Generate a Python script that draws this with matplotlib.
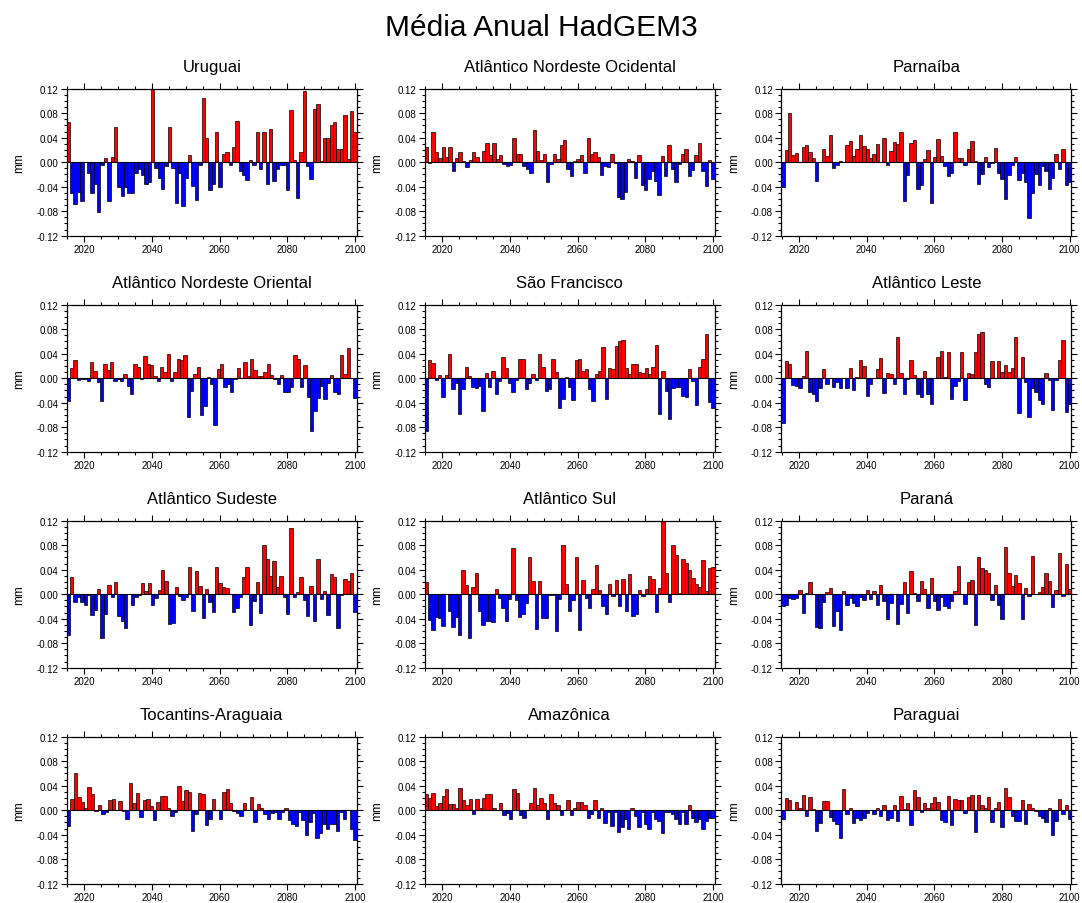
import numpy as np
import matplotlib
matplotlib.use("Agg")
import matplotlib.pyplot as plt
from matplotlib.ticker import MultipleLocator, FormatStrFormatter

plt.rcParams['font.family'] = ['Liberation Sans', 'DejaVu Sans']

SUPTITLE = "Média Anual HadGEM3"
YEAR_MIN, YEAR_MAX = 2014.8, 2100.5
XTICKS = [2020, 2040, 2060, 2080, 2100]
YTICKS = [-0.12, -0.08, -0.04, 0.00, 0.04, 0.08, 0.12]
YLABEL = "mm"

uruguai = [0.065,-0.051,-0.068,-0.049,-0.063,0.001,-0.018,-0.051,-0.036,-0.081,
           -0.004,0.007,-0.063,0.009,0.057,-0.040,-0.055,-0.040,-0.050,-0.050,
           -0.017,-0.011,-0.021,-0.036,-0.033,0.120,-0.010,-0.026,-0.044,-0.006,
           0.057,-0.010,-0.066,-0.018,-0.072,-0.025,0.012,-0.039,-0.062,-0.004,
           0.105,0.039,-0.045,-0.036,0.050,-0.041,0.014,0.016,-0.004,0.025,
           0.068,-0.014,-0.021,-0.029,0.003,-0.005,0.049,-0.011,0.050,-0.036,
           0.055,-0.031,-0.011,-0.004,-0.004,-0.045,0.085,0.003,-0.059,0.016,
           0.116,-0.006,-0.028,0.087,0.095,0.002,0.039,0.040,0.060,0.065,
           0.021,0.021,0.077,0.005,0.083,0.049]

atl_ne_ocidental = [0.025,-0.002,0.050,0.016,0.007,0.025,0.008,0.025,-0.014,0.007,
                    0.016,0.002,-0.008,0.004,0.016,0.008,0.000,0.019,0.032,0.011,
                    0.031,0.006,0.011,-0.003,-0.007,-0.005,0.040,0.014,0.013,-0.007,
                    -0.011,-0.018,0.052,0.019,0.004,0.013,-0.032,-0.003,0.013,0.005,
                    0.028,0.036,-0.011,-0.022,0.002,0.005,0.011,-0.017,0.040,
                    0.014,0.016,0.008,-0.021,-0.006,-0.008,0.014,-0.002,-0.056,-0.060,
                    -0.049,0.005,0.002,-0.026,0.011,-0.037,-0.046,-0.028,-0.014,-0.030,
                    -0.054,0.010,-0.023,0.028,-0.011,-0.033,-0.003,0.014,0.021,-0.022,
                    -0.013,0.011,0.031,-0.015,-0.039,0.003,-0.027]

parnaiba = [-0.041,0.020,0.080,0.011,0.015,0.000,0.025,0.028,0.017,0.007,
            -0.030,0.000,0.021,0.010,0.045,-0.010,-0.004,0.002,0.001,0.028,
            0.034,0.010,0.021,0.045,0.026,0.021,0.007,0.013,0.030,
            0.001,0.040,-0.004,0.018,0.033,0.029,0.049,-0.064,-0.021,0.032,
            0.036,-0.044,-0.037,0.005,0.020,-0.066,0.008,0.038,0.010,-0.007,
            -0.023,-0.017,0.050,0.007,0.007,-0.004,0.022,0.034,0.002,-0.035,
            -0.019,0.008,-0.008,-0.002,0.024,-0.017,-0.028,-0.060,-0.021,-0.004,
            0.008,-0.029,-0.018,-0.032,-0.091,-0.051,-0.020,-0.037,-0.006,-0.014,
            -0.043,-0.025,0.013,-0.011,0.021,-0.038,-0.032]

atl_ne_oriental = [-0.037,0.016,0.030,-0.003,-0.001,-0.002,-0.005,0.026,0.011,-0.007,
                   -0.038,0.023,0.014,0.027,-0.005,-0.001,-0.004,0.007,-0.012,-0.025,
                   0.023,0.019,-0.001,0.037,0.023,0.022,0.004,-0.004,0.019,0.010,
                   0.040,-0.004,0.010,0.032,0.029,0.038,-0.064,-0.021,0.007,0.019,
                   -0.060,-0.045,0.002,-0.010,-0.077,0.015,0.023,-0.015,-0.010,-0.022,
                   -0.002,0.016,0.000,0.027,0.004,0.031,0.013,0.003,0.003,0.010,
                   0.023,0.005,-0.001,-0.010,0.006,-0.023,-0.023,-0.015,0.038,0.032,
                   -0.015,0.021,-0.030,-0.087,-0.054,-0.032,-0.013,-0.034,-0.008,0.005,
                   -0.023,-0.026,0.038,0.007,0.050,0.000,-0.032]

sao_francisco = [-0.087,0.030,0.025,-0.003,0.005,-0.031,0.005,0.039,-0.018,-0.008,
                 -0.059,-0.017,0.018,0.004,-0.014,-0.016,-0.012,-0.053,0.009,-0.014,
                 0.012,-0.025,-0.004,0.035,0.017,-0.008,-0.023,-0.003,0.032,0.031,
                 -0.018,-0.008,0.007,-0.003,0.040,0.019,-0.021,-0.017,0.031,0.010,
                 -0.048,-0.034,0.002,-0.015,-0.036,0.030,0.032,0.012,0.015,-0.018,
                 -0.037,0.007,0.011,0.051,-0.034,0.016,0.015,0.052,0.060,0.062,
                 0.017,0.007,0.023,0.024,0.010,0.008,0.016,0.007,0.018,0.054,
                 -0.059,0.012,-0.021,-0.067,-0.016,-0.015,-0.014,-0.029,-0.031,0.015,
                 -0.004,-0.044,0.019,0.031,0.072,-0.039,-0.048]

atl_leste = [-0.073,0.028,0.023,-0.011,-0.013,-0.016,0.004,0.045,-0.023,-0.026,
             -0.038,-0.016,0.015,-0.010,0.000,-0.015,-0.007,-0.016,0.000,-0.016,
             0.016,-0.020,0.002,0.030,0.020,-0.029,-0.010,0.000,0.015,0.033,
             -0.024,0.009,0.007,-0.010,0.068,0.009,-0.026,-0.002,0.029,0.005,
             -0.026,-0.031,0.011,-0.026,-0.042,0.000,0.035,0.044,0.002,0.042,
             -0.034,-0.013,-0.004,0.042,-0.036,0.009,0.007,0.042,0.072,
             0.076,-0.010,-0.014,0.028,0.000,0.028,0.010,0.021,0.010,0.016,
             0.068,-0.057,0.034,-0.007,-0.064,-0.016,-0.022,-0.036,-0.042,0.009,
             -0.003,-0.052,-0.003,0.029,0.062,-0.055,-0.042]

atl_sudeste = [-0.067,0.028,-0.012,-0.005,-0.012,-0.018,-0.001,-0.034,-0.026,0.009,
               -0.072,-0.032,0.015,-0.005,0.020,-0.036,-0.044,-0.055,0.000,-0.017,
               -0.004,-0.001,0.018,0.005,0.018,-0.017,-0.007,0.007,0.040,0.022,
               -0.049,-0.047,0.011,-0.003,-0.009,-0.005,0.045,-0.027,0.038,0.014,
               -0.039,0.008,-0.012,-0.029,0.045,0.019,0.011,0.010,0.000,-0.029,
               -0.023,-0.005,0.028,0.045,-0.050,-0.011,0.020,-0.031,0.080,0.058,
               0.030,0.054,0.011,0.030,-0.004,-0.032,0.108,-0.004,0.003,0.028,
               -0.009,-0.036,0.013,-0.044,0.058,-0.008,0.006,-0.034,0.033,0.028,
               -0.055,-0.001,0.025,0.021,0.034,-0.029]

atl_sul = [0.020,-0.042,-0.058,-0.038,-0.039,-0.052,0.000,-0.027,-0.053,-0.038,
           -0.066,0.040,0.015,-0.071,0.011,0.035,-0.027,-0.050,-0.044,-0.044,
           -0.045,0.009,-0.007,-0.022,-0.044,-0.008,0.075,-0.009,-0.038,-0.033,
           -0.015,0.061,0.021,-0.057,0.022,-0.039,-0.039,-0.002,-0.002,-0.060,
           -0.008,0.081,0.016,-0.027,-0.009,0.060,-0.058,0.023,-0.006,-0.022,
           0.008,0.048,0.007,-0.020,-0.032,0.016,-0.003,0.023,-0.020,0.025,
           -0.028,0.033,-0.036,-0.033,0.007,-0.003,0.009,0.030,0.025,-0.029,
           0.010,0.119,0.034,-0.012,0.081,0.064,0.002,0.058,0.051,0.039,
           0.026,0.017,0.011,0.056,0.006,0.042,0.045]

parana = [-0.019,-0.017,-0.007,-0.008,-0.007,0.007,-0.031,0.002,0.020,
          0.000,-0.054,-0.055,-0.013,0.004,0.010,-0.052,-0.027,-0.058,0.006,
          -0.017,-0.007,-0.014,-0.019,-0.004,-0.009,0.007,-0.008,0.006,-0.017,
          0.015,-0.011,-0.040,-0.014,0.000,-0.048,-0.016,0.020,-0.031,0.038,
          0.002,-0.011,0.021,0.009,-0.023,0.027,-0.011,-0.025,-0.004,-0.020,
          -0.023,-0.011,0.005,0.046,0.000,-0.016,0.020,0.024,-0.050,0.060,
          0.042,0.040,0.034,-0.009,0.015,-0.018,-0.040,0.077,0.034,0.013,
          0.032,0.019,-0.040,0.010,-0.003,0.063,0.000,0.004,0.011,0.034,
          0.021,-0.021,0.007,0.068,-0.003,0.050,0.009]

tocantins = [-0.025,0.018,0.060,0.022,0.014,0.004,0.038,0.026,-0.002,0.009,
             -0.007,-0.003,0.016,0.019,0.000,0.015,-0.002,-0.015,0.044,0.011,
             0.028,-0.011,0.016,0.019,0.007,-0.016,0.014,0.023,0.023,0.004,
             -0.010,-0.003,0.040,0.015,0.033,0.029,-0.034,-0.007,0.028,0.026,
             -0.024,-0.015,0.018,0.000,-0.015,0.030,0.035,0.011,-0.002,-0.004,
             -0.009,0.012,0.000,0.022,-0.019,0.010,0.003,-0.007,-0.014,-0.004,
             -0.003,-0.014,-0.003,0.004,-0.016,-0.022,-0.026,-0.003,-0.016,-0.041,
             -0.019,-0.004,-0.046,-0.037,-0.023,-0.031,-0.022,-0.023,-0.034,-0.003,
             -0.014,0.001,-0.030,-0.049]

amazonica = [0.026,0.020,0.028,0.007,0.012,0.023,0.034,0.010,0.010,0.004,
             0.037,0.017,0.008,0.018,-0.007,0.018,0.003,0.020,0.027,0.027,
             0.004,0.000,0.011,-0.008,-0.004,-0.015,0.034,0.028,-0.008,-0.012,
             0.000,0.011,0.037,0.008,0.020,0.012,-0.014,0.027,0.011,0.008,
             -0.008,0.000,0.017,-0.008,0.004,0.014,0.013,0.009,-0.013,-0.007,
             0.017,-0.012,0.003,-0.021,-0.003,-0.025,-0.003,-0.036,-0.028,-0.015,
             -0.031,0.004,-0.009,-0.028,-0.003,-0.022,-0.031,-0.003,-0.015,-0.017,
             -0.038,-0.003,-0.003,-0.007,-0.015,-0.022,-0.003,-0.023,0.009,-0.012,
             -0.020,-0.015,-0.030,-0.017,-0.013,-0.013]

paraguai = [-0.014,0.020,0.016,0.000,0.013,0.004,0.025,-0.009,0.021,0.002,
            -0.034,-0.021,0.015,0.015,-0.011,-0.017,-0.023,-0.045,0.034,
            -0.007,0.004,-0.021,-0.013,-0.016,-0.012,-0.004,0.000,-0.006,0.004,
            -0.009,0.009,-0.016,-0.013,0.008,-0.017,0.023,0.002,0.012,-0.024,
            0.033,0.021,-0.003,0.012,0.004,0.011,0.021,0.013,-0.016,-0.020,
            0.024,-0.024,0.018,0.016,0.017,-0.005,0.021,0.025,-0.036,0.025,
            0.008,0.004,0.022,-0.019,0.004,0.013,-0.027,0.037,0.022,-0.009,
            -0.017,-0.017,0.017,-0.023,0.010,0.003,-0.001,-0.010,-0.012,-0.019,
            0.004,-0.040,-0.018,0.019,-0.007,0.009,-0.014]

PANELS = [
    ("Uruguai", uruguai),
    ("Atlântico Nordeste Ocidental", atl_ne_ocidental),
    ("Parnaíba", parnaiba),
    ("Atlântico Nordeste Oriental", atl_ne_oriental),
    ("São Francisco", sao_francisco),
    ("Atlântico Leste", atl_leste),
    ("Atlântico Sudeste", atl_sudeste),
    ("Atlântico Sul", atl_sul),
    ("Paraná", parana),
    ("Tocantins-Araguaia", tocantins),
    ("Amazônica", amazonica),
    ("Paraguai", paraguai),
]

W, H = 1082, 904
fig = plt.figure(figsize=(W / 100, H / 100), dpi=100)
fig.patch.set_facecolor("white")

col_left = [66.7, 424.7, 781.3]
row_top = [89.7, 305.7, 521.7, 737.7]
ax_w, ax_h = 290.0, 147.0

fig.text(0.5, 1 - 28 / H, SUPTITLE, ha="center", va="center", fontsize=21.5)

for k, (name, vals) in enumerate(PANELS):
    r, c = divmod(k, 3)
    left = col_left[c] / W
    bottom = 1 - (row_top[r] + ax_h) / H
    ax = fig.add_axes([left, bottom, ax_w / W, ax_h / H])
    v = np.asarray(vals, dtype=float)
    n = len(v)
    edges = np.linspace(YEAR_MIN, YEAR_MAX, n + 1)
    widths = np.diff(edges)
    colors = np.where(v >= 0, "#ff0000", "#0000ff")
    ax.bar(edges[:-1], v, width=widths, align="edge", color=colors,
           edgecolor="black", linewidth=0.5)
    ax.axhline(0, color="black", linewidth=0.8)
    ax.set_xlim(YEAR_MIN, YEAR_MAX)
    ax.set_ylim(-0.12, 0.12)
    ax.set_xticks(XTICKS)
    ax.set_yticks(YTICKS)
    ax.yaxis.set_major_formatter(FormatStrFormatter("%.2f"))
    ax.xaxis.set_minor_locator(MultipleLocator(5))
    ax.yaxis.set_minor_locator(MultipleLocator(0.01))
    ax.tick_params(which="both", direction="out", top=True, right=True,
                   labelsize=7, width=0.8, pad=2)
    ax.tick_params(which="major", length=4)
    ax.tick_params(which="minor", length=2)
    for s in ax.spines.values():
        s.set_linewidth(0.9)
    ax.set_ylabel(YLABEL, fontsize=8.5, labelpad=8)
    ax.set_title(name, fontsize=12, pad=13)

fig.savefig("out.png", dpi=100)
